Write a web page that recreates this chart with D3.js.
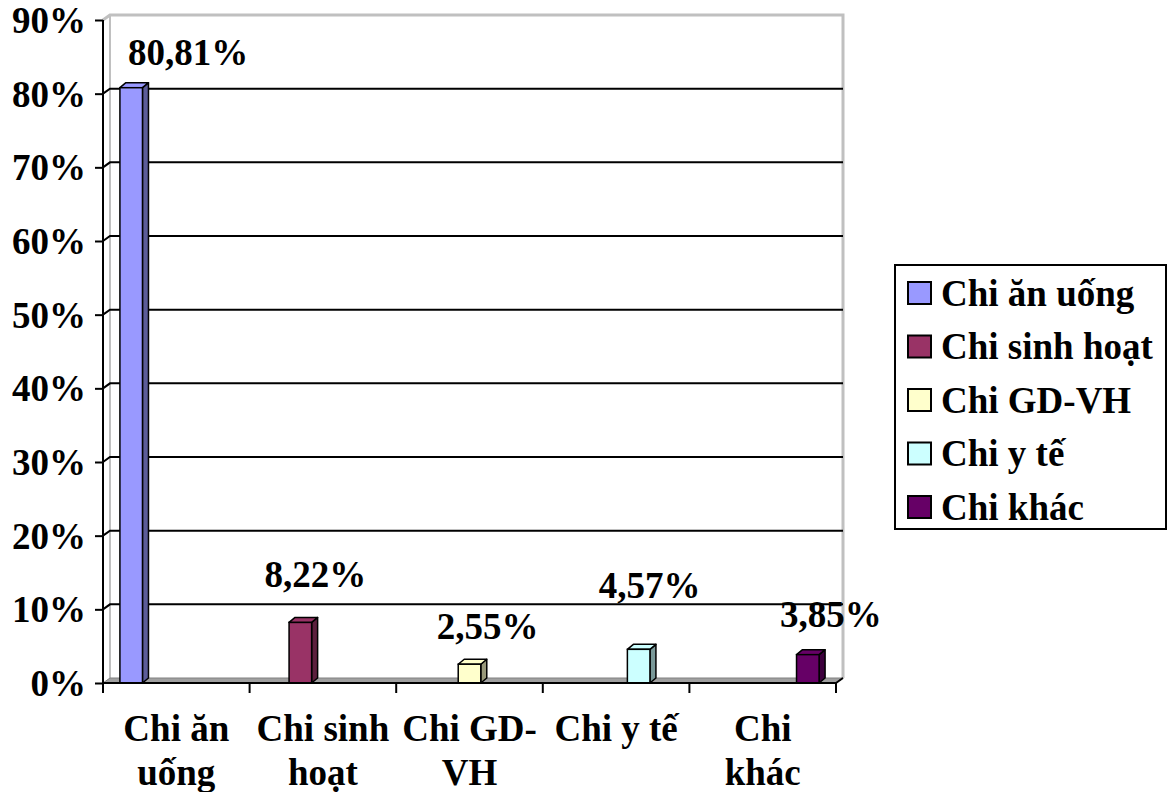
<!DOCTYPE html>
<html>
<head>
<meta charset="utf-8">
<script src="https://cdn.jsdelivr.net/npm/d3@7"></script>
<style>
  html, body { margin: 0; padding: 0; background: #fff; }
</style>
</head>
<body>
<svg id="chart" width="1172" height="792"></svg>
<script>
// Spending categories (legend names) and their shares, in percent
const categories = ["Chi ăn uống", "Chi sinh hoạt", "Chi GD-VH", "Chi y tế", "Chi khác"];
const values = [80.81, 8.22, 2.55, 4.57, 3.85];
const valueLabels = ["80,81%", "8,22%", "2,55%", "4,57%", "3,85%"];
// Category axis labels, wrapped as on the axis
const axisLabelLines = [["Chi ăn", "uống"], ["Chi sinh", "hoạt"], ["Chi GD-", "VH"], ["Chi y tế"], ["Chi", "khác"]];
const yTicks = [0, 10, 20, 30, 40, 50, 60, 70, 80, 90];
const colors = ["#9999FF", "#993366", "#FFFFCC", "#CCFFFF", "#660066"];
const sideColors = ["#5C5C99", "#5C1F3D", "#99997A", "#7A9999", "#3D003D"];

// Layout constants
const plot = { left: 103, right: 836, top: 20, bottom: 683 };
const wall = { dx: 7, dy: -5 };      // depth of the walls / floor
const bar = { dx: 6, dy: -5 };       // depth of each column
const labelShift = [[57, -23], [15, -35], [18, -25], [11, -51], [23, -28]]; // data label offsets from column top
const fontSize = 37;
const FONT = "Liberation Serif";

const svg = d3.select("#chart");

// Bold serif text helper
function styleText(sel) {
  return sel.attr("font-family", FONT).attr("font-weight", "bold").attr("font-size", fontSize).attr("fill", "#000");
}

const x = d3.scaleBand().domain(d3.range(categories.length)).range([plot.left, plot.right]).paddingInner(0).paddingOuter(0);
const x1 = d3.scaleBand().domain(d3.range(categories.length)).range([0, x.bandwidth()]).paddingInner(0).paddingOuter(0.75);
const y = d3.scaleLinear().domain([0, 90]).range([plot.bottom, plot.top]);

// Back wall outline (light gray)
const wx0 = plot.left + wall.dx, wx1 = plot.right + wall.dx;
const wy0 = y(90) + wall.dy, wy1 = plot.bottom + wall.dy;
svg.append("path")
  .attr("d", `M${plot.left},${y(90)} L${wx0},${wy0} L${wx1},${wy0} L${wx1},${wy1}`)
  .attr("fill", "none").attr("stroke", "#c0c0c0").attr("stroke-width", 3);
svg.append("line")
  .attr("x1", wx0).attr("x2", wx0).attr("y1", wy0).attr("y2", wy1)
  .attr("stroke", "#c0c0c0").attr("stroke-width", 2);

// Floor
svg.append("path")
  .attr("d", `M${plot.left},${plot.bottom} L${wx0},${wy1} L${wx1},${wy1} L${plot.right},${plot.bottom} Z`)
  .attr("fill", "#a0a0a0").attr("stroke", "#808080").attr("stroke-width", 1);

// Gridlines on side wall and back wall
svg.append("g").selectAll("path")
  .data(yTicks.filter(d => d > 0 && d < 90))
  .join("path")
  .attr("d", d => `M${plot.left},${y(d)} L${wx0},${y(d) + wall.dy} L${wx1},${y(d) + wall.dy}`)
  .attr("fill", "none").attr("stroke", "#000").attr("stroke-width", 2);

// Y axis
const yAxis = svg.append("g")
  .attr("transform", `translate(${plot.left},0)`)
  .call(d3.axisLeft(y).tickValues(yTicks).tickFormat(d => d + "%").tickSize(8).tickPadding(9));
yAxis.attr("font-family", FONT);
yAxis.select(".domain").attr("stroke", "#000").attr("stroke-width", 2).attr("d", `M0,${y(90)} V${plot.bottom}`);
yAxis.selectAll(".tick line").attr("stroke", "#000").attr("stroke-width", 2);
styleText(yAxis.selectAll(".tick text")).attr("dy", "0.34em");

// Columns (each series sits in its own slot of its own category)
const cols = svg.append("g").selectAll("g").data(values).join("g");
cols.each(function (v, i) {
  const g = d3.select(this);
  const bx = x(i) + x1(i), bw = x1.bandwidth();
  const top = y(v), base = plot.bottom;
  // side
  g.append("path")
    .attr("d", `M${bx + bw},${base} L${bx + bw + bar.dx},${base + bar.dy} L${bx + bw + bar.dx},${top + bar.dy} L${bx + bw},${top} Z`)
    .attr("fill", sideColors[i]).attr("stroke", "#000").attr("stroke-width", 1.5).attr("stroke-linejoin", "round");
  // top
  g.append("path")
    .attr("d", `M${bx},${top} L${bx + bar.dx},${top + bar.dy} L${bx + bw + bar.dx},${top + bar.dy} L${bx + bw},${top} Z`)
    .attr("fill", colors[i]).attr("stroke", "#000").attr("stroke-width", 1.5).attr("stroke-linejoin", "round");
  // front
  g.append("rect")
    .attr("x", bx).attr("y", top).attr("width", bw).attr("height", base - top)
    .attr("fill", colors[i]).attr("stroke", "#000").attr("stroke-width", 1.5);
});

// X axis line and boundary ticks
svg.append("line")
  .attr("x1", plot.left).attr("x2", plot.right).attr("y1", plot.bottom).attr("y2", plot.bottom)
  .attr("stroke", "#000").attr("stroke-width", 2);
svg.append("line")
  .attr("x1", plot.right).attr("x2", plot.right + wall.dx).attr("y1", plot.bottom).attr("y2", plot.bottom + wall.dy)
  .attr("stroke", "#000").attr("stroke-width", 2);
const edges = d3.range(categories.length).map(i => x(i)).concat([plot.right]);
svg.append("g").selectAll("line").data(edges).join("line")
  .attr("x1", d => d).attr("x2", d => d)
  .attr("y1", plot.bottom).attr("y2", plot.bottom + 10)
  .attr("stroke", "#000").attr("stroke-width", 2);

// Category labels
styleText(svg.append("g").selectAll("text").data(axisLabelLines).join("text"))
  .attr("text-anchor", "middle")
  .attr("x", (d, i) => x(i) + x.bandwidth() / 2)
  .each(function (lines, i) {
    d3.select(this).selectAll("tspan").data(lines).join("tspan")
      .attr("x", x(i) + x.bandwidth() / 2)
      .attr("y", (d, k) => 741 + k * 44)
      .text(d => d);
  });

// Data labels
styleText(svg.append("g").selectAll("text").data(values).join("text"))
  .attr("text-anchor", "middle")
  .attr("x", (v, i) => x(i) + x1(i) + x1.bandwidth() / 2 + labelShift[i][0])
  .attr("y", (v, i) => y(v) + labelShift[i][1])
  .text((v, i) => valueLabels[i]);

// Legend
const legend = { x: 895, y: 265, w: 271, h: 264 };
svg.append("rect")
  .attr("x", legend.x).attr("y", legend.y).attr("width", legend.w).attr("height", legend.h)
  .attr("fill", "#fff").attr("stroke", "#000").attr("stroke-width", 2);
const ly = d3.scalePoint().domain(d3.range(categories.length)).range([293, 507]);
const items = svg.append("g").selectAll("g").data(categories).join("g")
  .attr("transform", (d, i) => `translate(0,${ly(i)})`);
items.append("rect")
  .attr("x", 908).attr("y", -11).attr("width", 23).attr("height", 22)
  .attr("fill", (d, i) => colors[i]).attr("stroke", "#000").attr("stroke-width", 2);
styleText(items.append("text"))
  .attr("x", 941).attr("y", 0).attr("dy", "0.34em")
  .text(d => d);
</script>
</body>
</html>
